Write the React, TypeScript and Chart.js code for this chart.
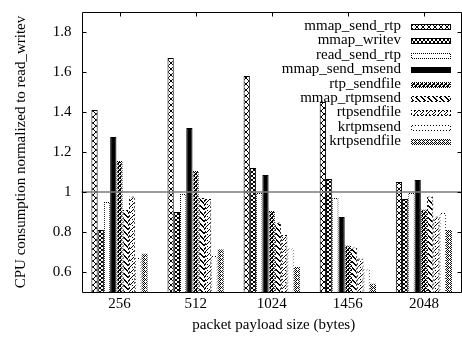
import React, { useEffect, useRef } from 'react';
import { Chart, registerables } from 'chart.js';
Chart.register(...registerables);

const categories = ['256', '512', '1024', '1456', '2048'];
const seriesNames = [
  'mmap_send_rtp',
  'mmap_writev',
  'read_send_rtp',
  'mmap_send_msend',
  'rtp_sendfile',
  'mmap_rtpmsend',
  'rtpsendfile',
  'krtpmsend',
  'krtpsendfile',
];
const mmapSendRtp = [1.41, 1.67, 1.58, 1.45, 1.05];
const mmapWritev = [0.81, 0.9, 1.12, 1.065, 0.965];
const readSendRtp = [0.95, 0.99, 0.995, 0.97, 0.995];
const mmapSendMsend = [1.275, 1.32, 1.085, 0.875, 1.06];
const rtpSendfile = [1.155, 1.105, 0.905, 0.732, 0.913];
const mmapRtpmsend = [0.91, 0.97, 0.848, 0.723, 0.977];
const rtpsendfileVals = [0.977, 0.965, 0.785, 0.668, 0.878];
const krtpmsendVals = [0.67, 0.68, 0.718, 0.612, 0.895];
const krtpsendfileVals = [0.693, 0.714, 0.625, 0.543, 0.81];
const seriesValues = [
  mmapSendRtp,
  mmapWritev,
  readSendRtp,
  mmapSendMsend,
  rtpSendfile,
  mmapRtpmsend,
  rtpsendfileVals,
  krtpmsendVals,
  krtpsendfileVals,
];
const yTicks = [0.6, 0.8, 1, 1.2, 1.4, 1.6, 1.8];
const yMin = 0.5;
const yMax = 1.9;
const referenceLine = 1;
const xTitle = 'packet payload size (bytes)';
const yTitle = 'CPU consumption normalized to read_writev';

const FONT = "'Liberation Serif', 'Times New Roman', serif";

export default function App() {
  const ref = useRef<HTMLCanvasElement>(null);

  useEffect(() => {
    document.body.style.margin = '0';
    const canvas = ref.current!;
    const ctx = canvas.getContext('2d')!;

    const mk = (w: number, h: number, fn: (x: number, y: number) => boolean) => {
      const c = document.createElement('canvas');
      c.width = w;
      c.height = h;
      const g = c.getContext('2d')!;
      g.fillStyle = '#fff';
      g.fillRect(0, 0, w, h);
      g.fillStyle = '#000';
      for (let y = 0; y < h; y++) for (let x = 0; x < w; x++) if (fn(x, y)) g.fillRect(x, y, 1, 1);
      return ctx.createPattern(c, 'repeat')!;
    };

    const crossP = mk(6, 6, (x, y) => x === y || x === 5 - y);
    const writevP = mk(4, 4, (x, y) => x === y || x === 3 - y);
    const whiteP = '#ffffff';
    const dotP = mk(2, 2, (x, y) => (x + y) % 2 === 0);
    const sendfileP = mk(4, 4, (x, y) => (x + y) % 4 < 2 || ((x + y) % 4 === 2 && y % 2 === 0));
    const rtpmsendP = mk(6, 6, (x, y) => (x - y + 6) % 6 < 2);
    const rtpsfP = mk(6, 6, (x, y) => (x + y) % 6 === 0 || ((x + y) % 6 === 3 && y % 3 === 0));
    const dashP = mk(4, 4, (x, y) => (x + y) % 4 < 2);
    const dot3P = mk(3, 3, (x, y) => (x + y) % 3 === 0);
    const checkP = mk(4, 4, (x, y) => ((x + y) % 2 === 0) !== (x % 4 === 1 && y % 4 === 1));

    const fills: any[] = [crossP, writevP, whiteP, '#000', sendfileP, rtpmsendP, rtpsfP, whiteP, checkP];
    const borders: any[] = ['#000', '#000', dotP, '#000', dotP, dashP, dashP, dot3P, dotP];

    const deco = {
      id: 'deco',
      afterDatasetsDraw(chart: any) {
        const { ctx: c, chartArea, scales } = chart;
        const { left, right, top, bottom } = chartArea;
        const x = scales.x;
        const y = scales.y;
        c.save();
        // reference line
        const yy = Math.round(y.getPixelForValue(referenceLine));
        c.strokeStyle = '#7a7a7a';
        c.lineWidth = 1.6;
        c.beginPath();
        c.moveTo(left, yy);
        c.lineTo(right, yy);
        c.stroke();
        // frame
        c.strokeStyle = '#000';
        c.lineWidth = 1;
        const L = Math.round(left) + 0.5;
        const T = Math.round(top) + 0.5;
        const B = Math.round(bottom) + 0.5;
        const R = Math.round(right) - 0.5;
        c.beginPath();
        c.moveTo(R, T);
        c.lineTo(L, T);
        c.lineTo(L, B);
        c.lineTo(R, B);
        c.lineTo(R, T);
        c.stroke();
        // tick marks
        c.beginPath();
        yTicks.forEach((v) => {
          const p = Math.round(y.getPixelForValue(v)) + 0.5;
          c.moveTo(L, p);
          c.lineTo(L + 4, p);
          c.moveTo(R, p);
          c.lineTo(R - 4, p);
        });
        categories.forEach((_, i) => {
          const p = Math.round(x.getPixelForValue(i)) + 0.5;
          c.moveTo(p, T);
          c.lineTo(p, T + 4);
          c.moveTo(p, B);
          c.lineTo(p, B - 4);
        });
        c.stroke();
        // legend
        c.font = `15px ${FONT}`;
        c.textAlign = 'right';
        c.textBaseline = 'middle';
        seriesNames.forEach((name, i) => {
          const rc = 26.8 + 14.45 * i;
          c.fillStyle = '#000';
          c.fillText(name, 401, rc - 1);
          const bx = 411;
          const by = Math.round(rc - 3);
          c.fillStyle = borders[i];
          c.fillRect(bx, by, 40, 6);
          c.fillStyle = fills[i];
          c.fillRect(bx + 1, by + 1, 38, 4);
        });
        // axis titles
        c.fillStyle = '#000';
        c.textAlign = 'center';
        c.textBaseline = 'alphabetic';
        c.fillText(xTitle, (left + right) / 2 + 2, 329);
        c.translate(25, (top + bottom) / 2);
        c.rotate(-Math.PI / 2);
        c.fillText(yTitle, 0, 0);
        c.restore();
      },
    };

    const chart = new Chart(canvas, {
      type: 'bar',
      data: {
        labels: categories,
        datasets: seriesNames.map((name, i) => ({
          label: name,
          data: seriesValues[i],
          backgroundColor: fills[i],
          borderColor: borders[i],
          borderWidth: 1,
          borderSkipped: false,
          categoryPercentage: 0.74,
          barPercentage: 1,
        })),
      },
      options: {
        animation: false,
        responsive: true,
        maintainAspectRatio: false,
        devicePixelRatio: 1,
        layout: { padding: { left: 0, top: 12, right: -1, bottom: 0 } },
        plugins: { legend: { display: false }, tooltip: { enabled: false } },
        scales: {
          x: {
            type: 'category',
            offset: true,
            grid: { display: false, drawTicks: false },
            border: { display: false },
            ticks: {
              color: '#000',
              font: { family: FONT, size: 15 },
              padding: 3,
              maxRotation: 0,
              autoSkip: false,
            },
            afterFit: (s: any) => {
              s.height = 46;
              s.paddingLeft = 0;
              s.paddingRight = 0;
            },
          },
          y: {
            min: yMin,
            max: yMax,
            grid: { display: false, drawTicks: false },
            border: { display: false },
            ticks: {
              color: '#000',
              font: { family: FONT, size: 15 },
              padding: 10,
              callback: (v: any) => `${+Number(v).toFixed(2)}`,
            },
            afterBuildTicks: (s: any) => {
              s.ticks = yTicks.map((v) => ({ value: v }));
            },
            afterFit: (s: any) => {
              s.width = 81.5;
              s.paddingTop = 0;
              s.paddingBottom = 0;
            },
          },
        },
      } as any,
      plugins: [deco],
    });

    return () => chart.destroy();
  }, []);

  return (
    <div style={{ width: 462, height: 338, position: 'relative' }}>
      <canvas ref={ref} />
    </div>
  );
}
